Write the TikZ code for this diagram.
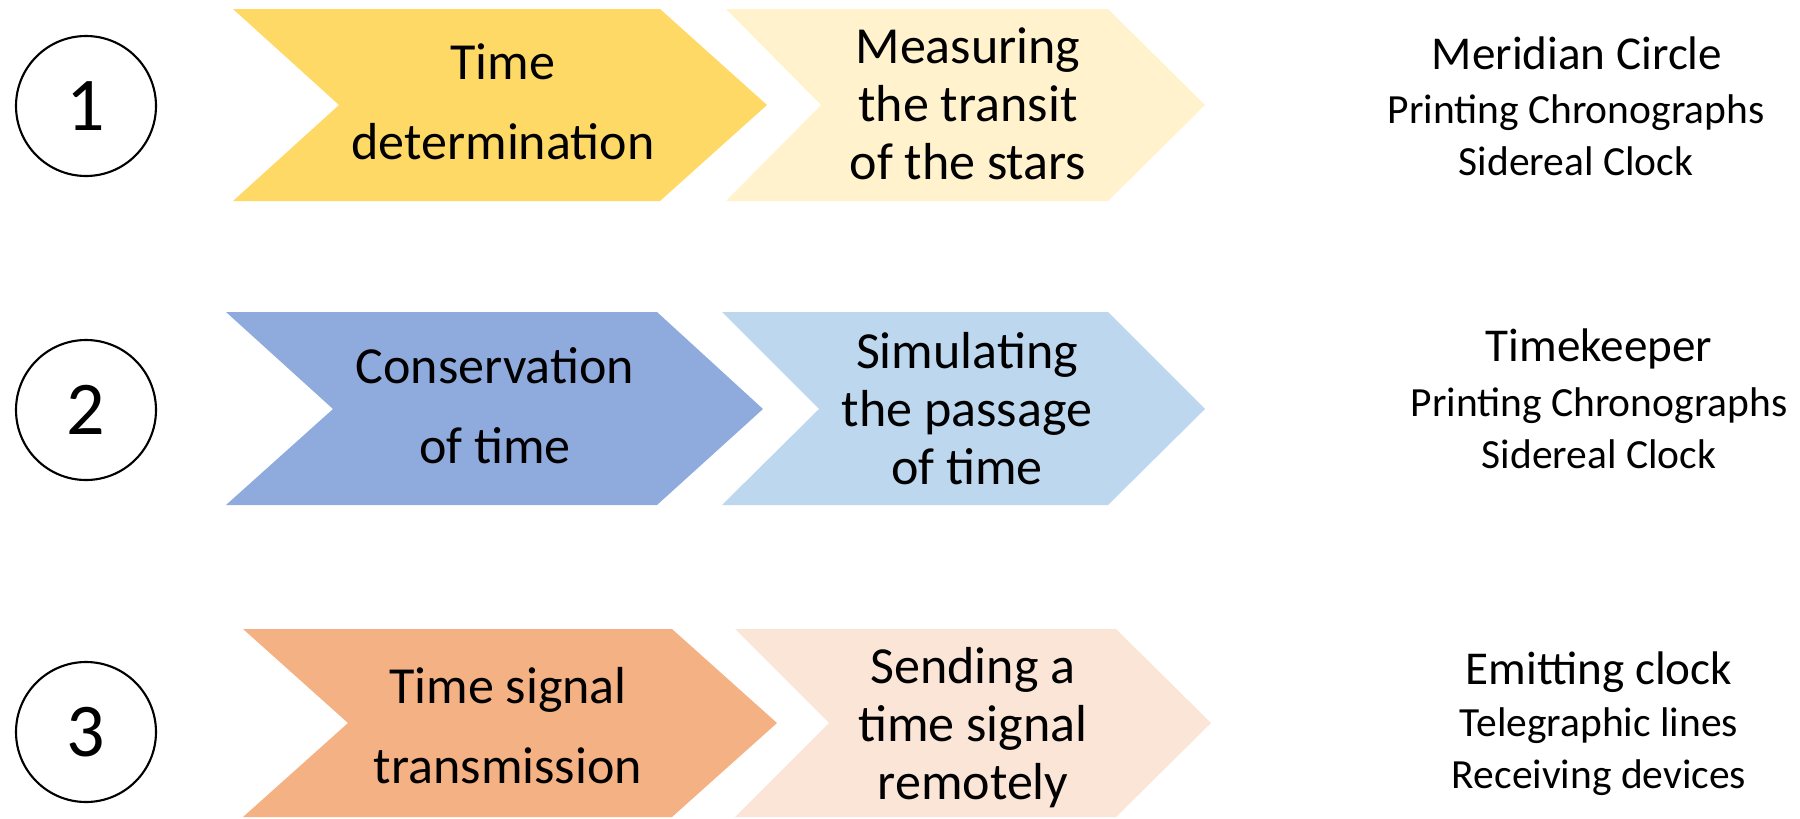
\documentclass[tikz,border=0pt]{standalone}
\usepackage{fontspec}
\setmainfont{Carlito}
\definecolor{goldA}{HTML}{FFD966}
\definecolor{goldB}{HTML}{FFF2CC}
\definecolor{blueA}{HTML}{8FAADC}
\definecolor{blueB}{HTML}{BDD7EE}
\definecolor{orangeA}{HTML}{F4B183}
\definecolor{orangeB}{HTML}{FBE5D6}
% chevron: colour, left, notch, right, tip, top, middle, bottom
\newcommand{\chevron}[8]{%
  \fill[#1] (#2,#6) -- (#4,#6) -- (#5,#7) -- (#4,#8) -- (#2,#8) -- (#3,#7) -- cycle;}
\begin{document}
\begin{tikzpicture}[x=0.01cm,y=-0.01cm]
        \tikzset{number/.style = {shape=circle,draw,line width=0.6pt,minimum size=140*0.01cm,inner sep=0pt,font=\fontsize{21.6}{24}\selectfont}}
        \tikzset{steptext/.style = {align=center,font=\fontsize{14.8}{22.8}\selectfont}}
        \tikzset{desctext/.style = {align=center,font=\fontsize{14.8}{16.5}\selectfont}}
        \tikzset{tool/.style = {align=center,font=\fontsize{13.4}{15}\selectfont}}
        \tikzset{items/.style = {align=center,font=\fontsize{11.8}{14.8}\selectfont}}
        \useasboundingbox (0,0) rectangle (1800,818);
        % numbers on the left
        \node[number] (n1) at (86,106) {1};
        \node[number] (n2) at (86,410) {2};
        \node[number] (n3) at (86,732) {3};
        % chevrons
        \chevron{goldA}{233}{339}{660}{767}{9}{105}{201}
        \chevron{goldB}{726}{821}{1108}{1205}{9}{105}{201}
        \chevron{blueA}{226}{333}{657}{763}{312}{409}{505}
        \chevron{blueB}{722}{819}{1108}{1205}{312}{409}{505}
        \chevron{orangeA}{243}{348}{672}{777}{629}{723}{817}
        \chevron{orangeB}{735}{829}{1116}{1211}{629}{723}{817}
        % texts in the chevrons
        \node[steptext] (s1) at (503,102) {Time\\determination};
        \node[desctext] (d1) at (968,104) {Measuring\\the transit\\of the stars};
        \node[steptext] (s2) at (495,406) {Conservation\\of time};
        \node[desctext] (d2) at (967,409) {Simulating\\the passage\\of time};
        \node[steptext] (s3) at (508,726) {Time signal\\transmission};
        \node[desctext] (d3) at (973,728) {Sending a\\time signal\\remotely};
        % instruments on the right
        \node[tool] (i1) at (1577,53) {Meridian Circle};
        \node[items] (e1) at (1576,135) {Printing Chronographs\\Sidereal Clock};
        \node[tool] (i2) at (1599,349) {Timekeeper};
        \node[items] (e2) at (1599,428) {Printing Chronographs\\Sidereal Clock};
        \node[tool] (i3) at (1599,672) {Emitting clock};
        \node[items] (e3) at (1599,752) {Telegraphic lines\\Receiving devices};
\end{tikzpicture}
\end{document}
